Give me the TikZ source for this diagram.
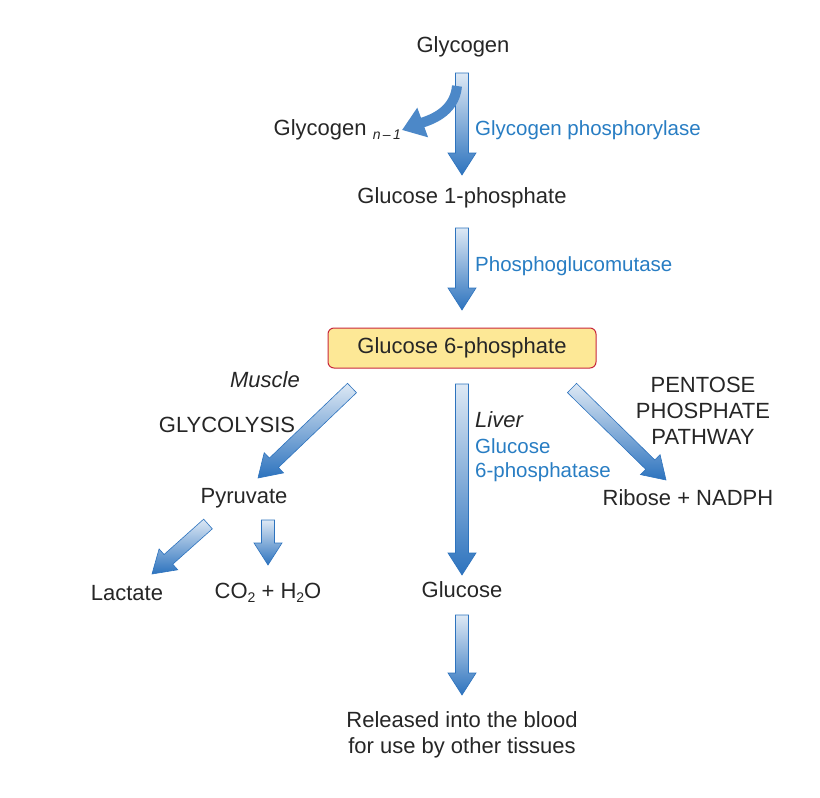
\documentclass[tikz,border=0pt]{standalone}
\usepackage{fontspec}
\setmainfont{Liberation Sans}
\usetikzlibrary{calc,arrows.meta}
\definecolor{ablue}{RGB}{45,115,190}
\definecolor{tblue}{RGB}{40,125,195}
\definecolor{boxfill}{RGB}{253,232,150}
\definecolor{boxline}{RGB}{200,40,60}
\newcommand\sub[1]{\raisebox{-0.35ex}{\fontsize{14}{16}\selectfont #1}}
\newcommand\blockarr[2]{%
  \shade[top color=white!60!ablue!40, bottom color=ablue, draw=ablue, line width=0.6pt]
   ($(#1)!6.5pt!90:(#2)$) -- ($($(#2)!22pt!(#1)$)!6.5pt!-90:(#1)$) --
   ($($(#2)!22pt!(#1)$)!14pt!-90:(#1)$) -- (#2) --
   ($($(#2)!22pt!(#1)$)!14pt!90:(#1)$) -- ($($(#2)!22pt!(#1)$)!6.5pt!90:(#1)$) --
   ($(#1)!6.5pt!-90:(#2)$) -- cycle;}
\begin{document}
\begin{tikzpicture}[x=1pt,y=-1pt,
  t/.style={font=\fontsize{22}{26}\selectfont, text=black!85, inner sep=1pt},
  b/.style={font=\fontsize{20.5}{24}\selectfont, text=tblue, inner sep=1pt}]
\useasboundingbox (0,0) rectangle (820,798);
\node[t] (glyc) at (463,47) {Glycogen};
\node[t,anchor=east] (glycn) at (402,130) {Glycogen \sub{\itshape n\,\textendash\,1}};
\node[b,anchor=west] (gp) at (474,130) {Glycogen phosphorylase};
\node[t] (g1p) at (462,198) {Glucose 1-phosphate};
\node[b,anchor=west] (pgm) at (474,266) {Phosphoglucomutase};
\node[t, draw=boxline, fill=boxfill, rounded corners=6pt, minimum width=268pt, minimum height=40pt, line width=1pt] (g6p) at (462,348) {Glucose 6-phosphate};
\node[t,font=\fontsize{22}{26}\selectfont\itshape] (mus) at (265,380) {Muscle};
\node[t] (gly) at (227,425) {GLYCOLYSIS};
\node[t] (pyr) at (244,498) {Pyruvate};
\node[t,font=\fontsize{22}{26}\selectfont\itshape,anchor=west] (liv) at (474,420) {Liver};
\node[b,anchor=north west,align=left] (g6pase) at (474,437) {Glucose\\6-phosphatase};
\node[t,align=center] (ppp) at (703,411) {PENTOSE\\PHOSPHATE\\PATHWAY};
\node[t] (rib) at (688,498) {Ribose + NADPH};
\node[t] (lac) at (127,593) {Lactate};
\node[t] (co2) at (268,593) {CO\sub{2} + H\sub{2}O};
\node[t] (glc) at (462,590) {Glucose};
\node[t,align=center] (rel) at (462,735) {Released into the blood\\for use by other tissues};
\coordinate (a1s) at (462,73); \coordinate (a1e) at (462,175);
\coordinate (a2s) at (462,228); \coordinate (a2e) at (462,310);
\coordinate (a3s) at (352,388); \coordinate (a3e) at (258,478);
\coordinate (a4s) at (462,384); \coordinate (a4e) at (462,575);
\coordinate (a5s) at (572,388); \coordinate (a5e) at (666,480);
\coordinate (a6s) at (208,524); \coordinate (a6e) at (152,574);
\coordinate (a7s) at (268,520); \coordinate (a7e) at (268,565);
\coordinate (a8s) at (462,615); \coordinate (a8e) at (462,695);
\blockarr{a1s}{a1e}
\blockarr{a2s}{a2e}
\blockarr{a3s}{a3e}
\blockarr{a4s}{a4e}
\blockarr{a5s}{a5e}
\blockarr{a6s}{a6e}
\blockarr{a7s}{a7e}
\blockarr{a8s}{a8e}
\draw[ablue!85, line width=10pt, -{Triangle[length=22pt,width=30pt]}] (457,86) to[out=-95,in=20] (glycn.east);
\end{tikzpicture}
\end{document}
